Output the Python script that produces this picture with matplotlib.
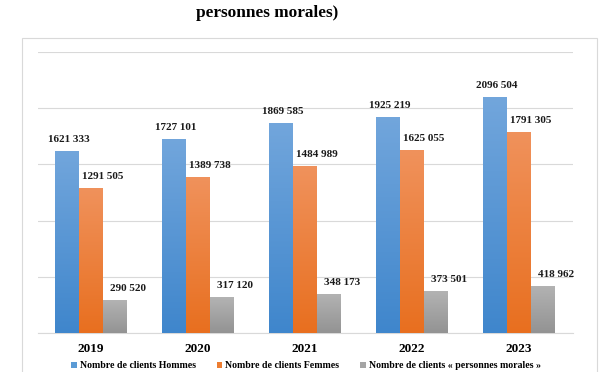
import matplotlib
matplotlib.use("Agg")
import matplotlib.pyplot as plt
import numpy as np
from matplotlib.patches import Rectangle
from matplotlib.colors import LinearSegmentedColormap

years = ["2019", "2020", "2021", "2022", "2023"]
hommes = [1621333, 1727101, 1869585, 1925219, 2096504]
femmes = [1291505, 1389738, 1484989, 1625055, 1791305]
morales = [290520, 317120, 348173, 373501, 418962]
series_names = ["Nombre de clients Hommes", "Nombre de clients Femmes",
                "Nombre de clients « personnes morales »"]
colors = ["#5B9BD5", "#ED7D31", "#A5A5A5"]
grad = [("#3F86CC", "#72A6DC"), ("#E86F1F", "#F0925C"), ("#939393", "#B3B3B3")]
title = "personnes morales)"

serif = ["Liberation Serif", "DejaVu Serif"]


def fmt(v):
    return f"{v // 1000} {v % 1000:03d}"


fig = plt.figure(figsize=(6, 3.72), dpi=100)
fig.patch.set_facecolor("white")

fig.add_artist(Rectangle((22/600, -0.05), 575/600, 1 - 38/372 + 0.05,
                         transform=fig.transFigure, fill=False,
                         edgecolor="#D9D9D9", linewidth=0.8))

fig.text(267/600, 1 - 13/372, title, ha="center", va="center",
         fontsize=12.4, fontweight="bold", family=serif)

ax = fig.add_axes([37.5/600, 1 - 333/372, 535/600, 281/372])
x = np.arange(len(years))
w = 0.224
data = [hommes, femmes, morales]
offsets = [-w, 0, w]
label_dx = [0.02, 0.11, 0.12]
ymax = 2500000
handles = []
grad_img = np.linspace(0, 1, 256).reshape(-1, 1)
for vals, off, c, g, name, ldx in zip(data, offsets, colors, grad, series_names, label_dx):
    b = ax.bar(x + off, vals, w, color=c, label=name, zorder=3)
    handles.append(b)
    cmap = LinearSegmentedColormap.from_list("g", list(g))
    for patch, xi, v in zip(b.patches, x, vals):
        im = ax.imshow(grad_img, cmap=cmap, aspect="auto", origin="lower",
                       extent=(xi + off - w/2, xi + off + w/2, 0, v), zorder=4)
        im.set_clip_path(patch)
        ax.annotate(fmt(v), (xi + off + ldx, v), xytext=(0, 5), textcoords="offset points",
                    ha="center", va="bottom", fontsize=8, fontweight="bold",
                    family=serif, color="#1a1a1a")

ax.set_xlim(-0.5, len(years) - 0.5)
ax.set_ylim(0, ymax)
ax.set_yticks([0, 500000, 1000000, 1500000, 2000000, 2500000])
ax.yaxis.grid(True, color="#D9D9D9", linewidth=0.8, zorder=0)
ax.set_axisbelow(True)
for s in ["left", "right", "top"]:
    ax.spines[s].set_visible(False)
ax.spines["bottom"].set_color("#D9D9D9")
ax.tick_params(axis="y", left=False, labelleft=False)
ax.tick_params(axis="x", length=0, pad=7)
ax.set_xticks(x)
ax.set_xticklabels(years, fontsize=9.5, fontweight="bold", family=serif)

fig.legend(handles=handles, labels=series_names, loc="center",
           bbox_to_anchor=(306/600, 6/372), ncol=3, frameon=False,
           prop={"family": serif, "size": 7.1, "weight": "bold"},
           handlelength=0.6, handleheight=0.6, handletextpad=0.3,
           columnspacing=2.1)

fig.savefig("out.png", dpi=100)
